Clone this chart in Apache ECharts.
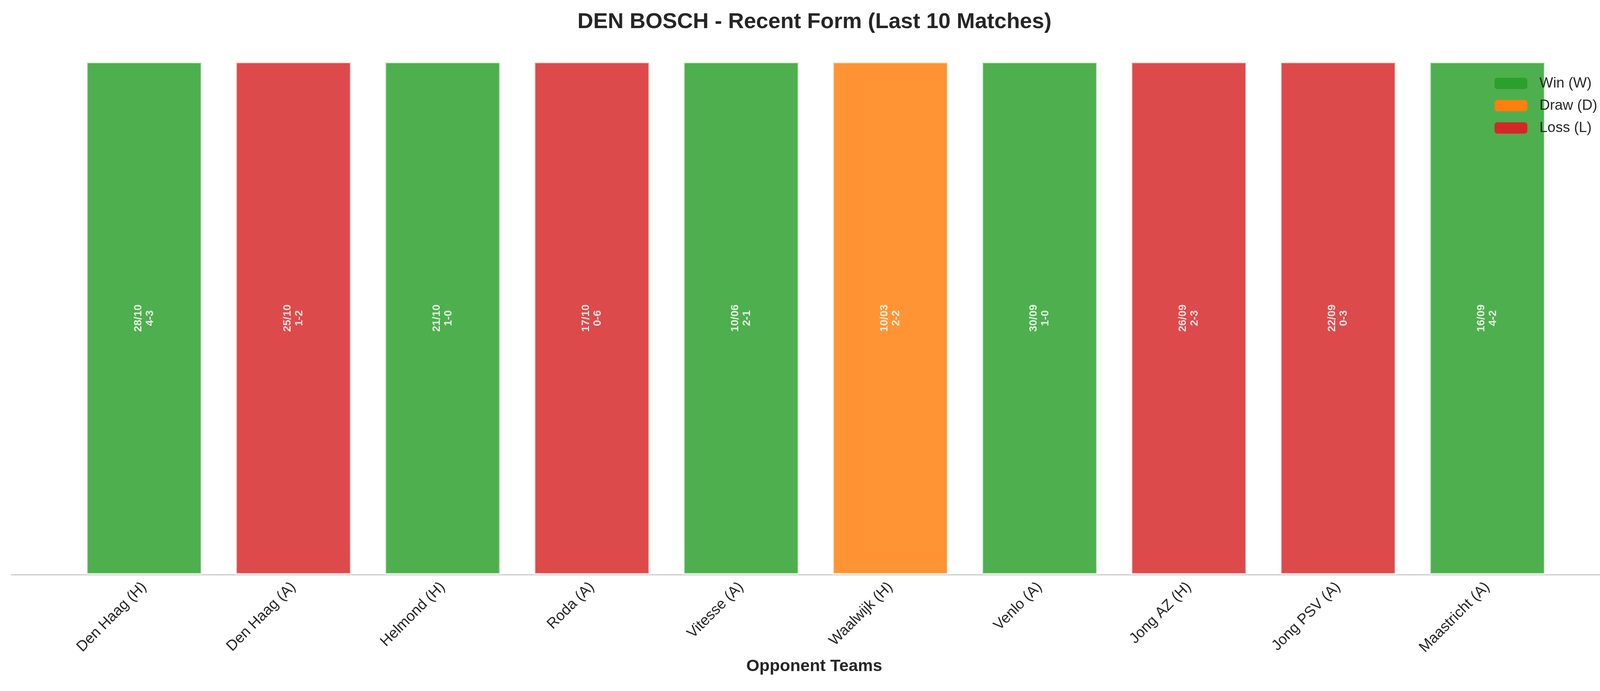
<!DOCTYPE html>
<html><head><meta charset="utf-8">
<script src="https://cdn.jsdelivr.net/npm/echarts@6/dist/echarts.min.js"></script>
<style>html,body{margin:0;padding:0;background:#fff}#c{width:4170px;height:1769px}</style>
</head><body><div id="c"></div>
<script>
const opponents = ["Den Haag (H)","Den Haag (A)","Helmond (H)","Roda (A)","Vitesse (A)","Waalwijk (H)","Venlo (A)","Jong AZ (H)","Jong PSV (A)","Maastricht (A)"];
const results = ["W","L","W","L","W","D","W","L","L","W"];
const dates = ["28/10","25/10","21/10","17/10","10/06","10/03","30/09","26/09","22/09","16/09"];
const scores = ["4-3","1-2","1-0","0-6","2-1","2-2","1-0","2-3","0-3","4-2"];
const barValue = 1;
const kinds = [["W","Win (W)","#2ca02c"],["D","Draw (D)","#ff7f0e"],["L","Loss (L)","#d62728"]];

const series = kinds.map(([k,name,color]) => ({
  name, type:'bar', stack:'s', barWidth:297,
  itemStyle:{color:color, opacity:0.84, borderColor:'rgba(255,255,255,0.8)', borderWidth:4},
  label:{show:true, position:'inside', rotate:90, color:'#fff', fontWeight:'bold', fontSize:28,
    fontFamily:'Liberation Sans, Arial', lineHeight:30,
    formatter:p=>dates[p.value[0]]+'\n'+scores[p.value[0]]},
  data: results.map((r,i)=> r===k ? [i,barValue] : [i,null])
}));

const chart = echarts.init(document.getElementById('c'));
chart.setOption({
  animation:false,
  backgroundColor:'#fff',
  title:{text:'DEN BOSCH - Recent Form (Last 10 Matches)', left:'center', top:24,
    textStyle:{fontSize:56, fontWeight:'bold', color:'#262626', fontFamily:'Liberation Sans, Arial'}},
  legend:{left:3821, top:190, orient:'vertical', itemWidth:84, itemHeight:29, itemGap:20,
    textStyle:{fontSize:37, color:'#262626', fontFamily:'Liberation Sans, Arial', padding:[0,0,0,26]},
    data:kinds.map(k=>({name:k[1], itemStyle:{opacity:1, borderWidth:0}}))},
  grid:{left:29, right:30, top:158, bottom:298},
  xAxis:{type:'value', min:-0.89, max:9.87,
    name:'Opponent Teams', nameLocation:'middle', nameGap:205,
    nameTextStyle:{fontSize:43, fontWeight:'bold', color:'#262626', fontFamily:'Liberation Sans, Arial'},
    axisLine:{show:true, lineStyle:{color:'#cccccc', width:3}},
    axisTick:{show:false}, splitLine:{show:false},
    axisLabel:{customValues:opponents.map((_,i)=>i), rotate:45, fontSize:38, color:'#262626',
      fontFamily:'Liberation Sans, Arial', margin:26, formatter:v=>opponents[Math.round(v)]}},
  yAxis:{type:'value', min:0, max:1, show:false},
  series
});
</script></body></html>
